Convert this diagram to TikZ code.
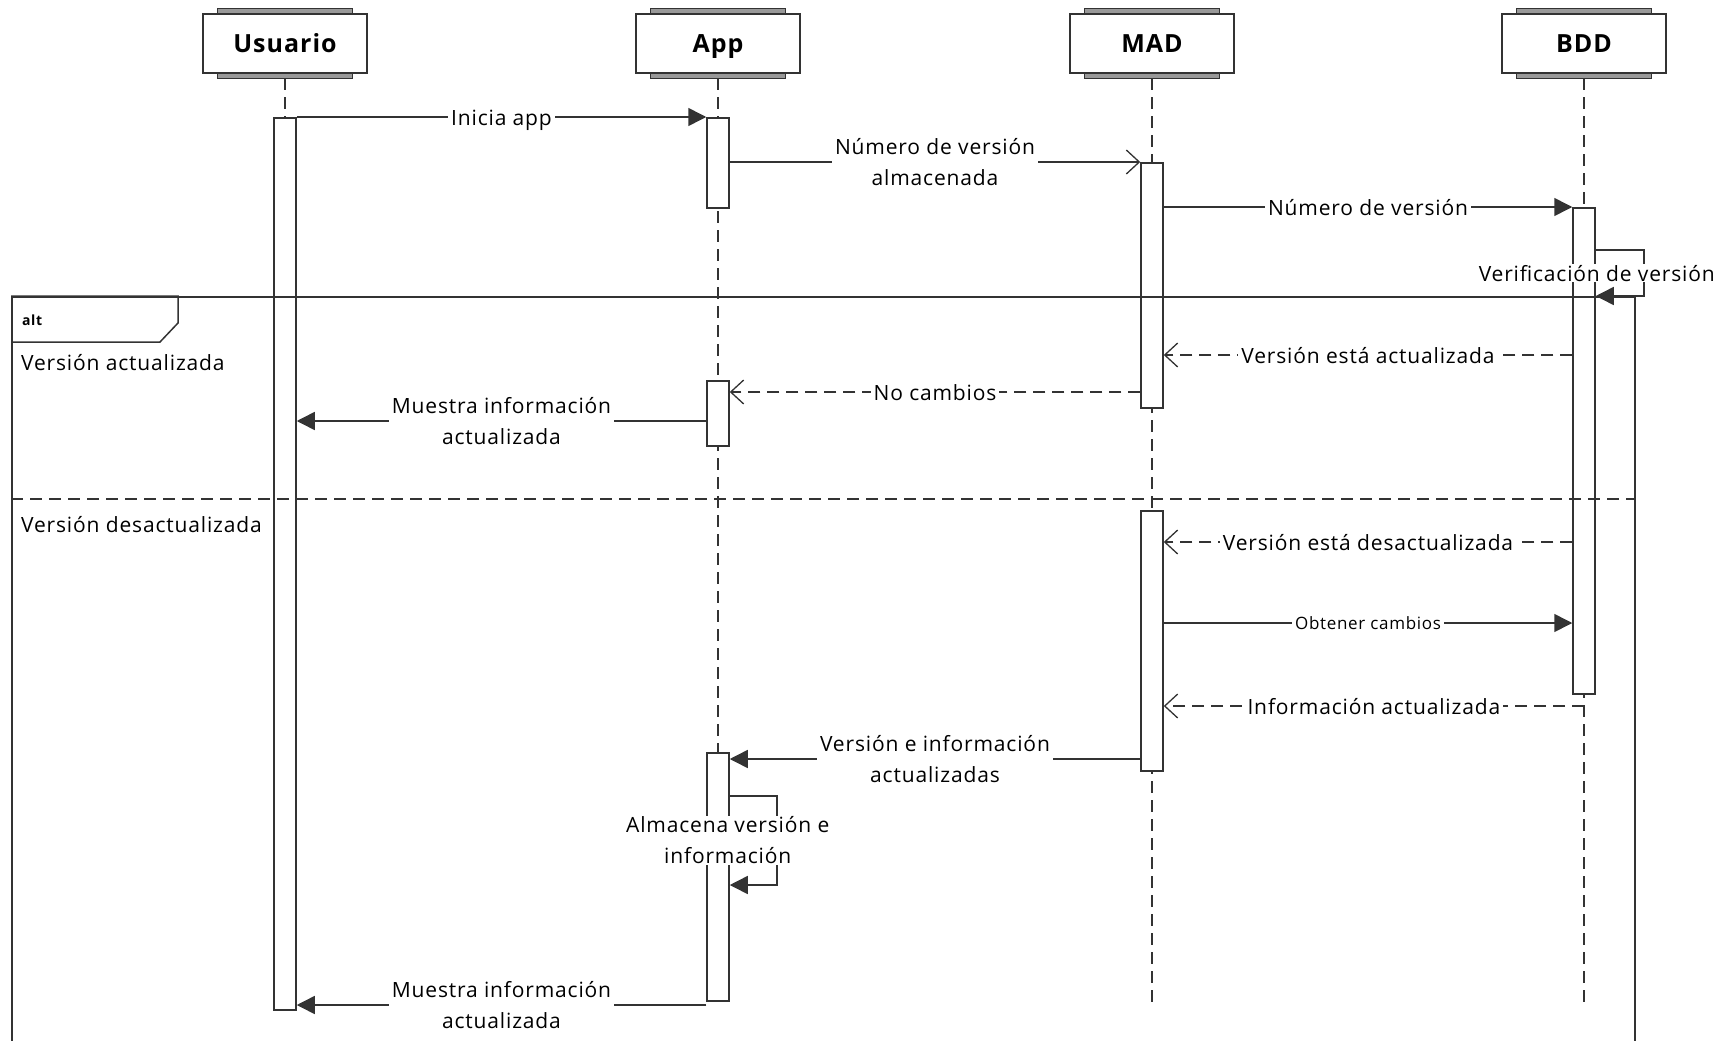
\documentclass[tikz,border=0pt]{standalone}
\usepackage{fontspec}
\setmainfont{Open Sans}[LetterSpace=4]
\usetikzlibrary{arrows.meta}

\definecolor{linegray}{HTML}{333333}
\definecolor{capgray}{HTML}{999999}

\tikzset{
  lane/.style={draw=linegray, line width=1.5pt, fill=white, minimum width=164pt,
    minimum height=59pt, inner sep=0pt, text height=18pt, text depth=0pt,
    font=\fontsize{25}{30}\selectfont\bfseries},
  capbar/.style={draw=linegray, line width=1pt, fill=capgray},
  lifeline/.style={draw=linegray, line width=1.5pt, dash pattern=on 12pt off 7pt},
  actbar/.style={draw=linegray, line width=1.5pt, fill=white, minimum width=22pt,
    inner sep=0pt, anchor=north},
  frame/.style={draw=linegray, line width=1.5pt, inner sep=0pt, anchor=north west},
  call/.style={draw=linegray, line width=1.5pt, -{Triangle[length=18pt,width=18pt]}},
  async/.style={draw=linegray, line width=1.5pt, -{Straight Barb[length=13pt,width=24pt,line width=1.3pt]}},
  reply/.style={async, dash pattern=on 12pt off 7pt},
  msg/.style={fill=white, inner xsep=3pt, inner ysep=1pt, align=center, text=black,
    font=\fontsize{21}{31}\selectfont},
  msgline/.style={msg, text height=16pt, text depth=0pt},
  smallmsg/.style={msg, text height=13pt, text depth=0pt, font=\fontsize{17}{20}\selectfont},
  guard/.style={anchor=west, inner sep=0pt, font=\fontsize{21}{25}\selectfont},
}

\begin{document}
\begin{tikzpicture}[x=1pt,y=-1pt]
\useasboundingbox (0,0) rectangle (1735,1041);
\clip (0,0) rectangle (1735,1041);

% lanes
\node[lane] (usr) at (285,43.5) {Usuario};
\node[lane] (app) at (718,43.5) {App};
\node[lane] (mad) at (1152,43.5) {MAD};
\node[lane] (bdd) at (1584,43.5) {BDD};
\foreach \h in {usr,app,mad,bdd}{
  \draw[capbar] ([xshift=15pt]\h.north west) rectangle ([xshift=-15pt,yshift=4.5pt]\h.north east);
  \draw[capbar] ([xshift=15pt]\h.south west) rectangle ([xshift=-15pt,yshift=-4.5pt]\h.south east);
}

% message levels
\coordinate (yend) at (0,1003);
\coordinate (yverif) at (0,250);
\coordinate (ynow) at (0,355);
\coordinate (ynochg) at (0,392);
\coordinate (yshow) at (0,421);
\coordinate (ysep) at (0,499);
\coordinate (yold) at (0,542);
\coordinate (yget) at (0,623);
\coordinate (yinfo) at (0,706);
\coordinate (ysend) at (0,759);
\coordinate (ysave) at (0,796);
\coordinate (ysaved) at (0,885);
\coordinate (yshowb) at (0,1005);

% lifelines
\foreach \h in {usr,app,mad,bdd}
  \draw[lifeline] ([yshift=-4.5pt]\h.south) -- (\h |- yend);

% activations
\node[actbar, minimum height=892pt] (usr1) at (usr |- 0,117) {};
\node[actbar, minimum height=90pt] (app1) at (app |- 0,117) {};
\node[actbar, minimum height=65pt] (app2) at (app |- 0,380) {};
\node[actbar, minimum height=248pt] (app3) at (app |- 0,752) {};
\node[actbar, minimum height=245pt] (mad1) at (mad |- 0,162) {};
\node[actbar, minimum height=260pt] (mad2) at (mad |- 0,510) {};
\node[actbar, minimum height=486pt] (bdd1) at (bdd |- 0,207) {};

% alt frame
\node[frame, minimum width=1623pt, minimum height=800pt] (alt) at (11,296) {};
\draw[draw=linegray, line width=1.5pt] (alt.north west) -- ++(167,0) -- ++(0,27)
  -- ++(-18,19) -- ++(-149,0);
\node[anchor=west, inner sep=0pt, font=\fontsize{14}{17}\selectfont\bfseries] (alttag) at (22,320) {alt};
\node[guard] (gnow) at (21,363) {Versión actualizada};
\draw[lifeline] (alt.west |- ysep) -- (alt.east |- ysep);
\node[guard] (gold) at (21,525) {Versión desactualizada};

% messages
\draw[call] (usr1.north east) -- node[msgline] {Inicia app} (app1.north west);
\draw[async] (app1.east |- mad1.north) -- node[msg] {Número de versión\\almacenada} (mad1.north west);
\draw[call] (mad1.east |- bdd1.north) -- node[msgline] {Número de versión} (bdd1.north west);
\draw[call] (bdd1.east |- yverif) -| node[msgline, pos=0.75, xshift=-47pt] {Verificación de versión}
  ([xshift=48pt]bdd1.east |- alt.north) -- (bdd1.east |- alt.north);
\draw[reply] (bdd1.west |- ynow) -- node[msgline] {Versión está actualizada} (mad1.east |- ynow);
\draw[reply] (mad1.west |- ynochg) -- node[msgline] {No cambios} (app2.east |- ynochg);
\draw[call] (app2.west |- yshow) -- node[msg] {Muestra información\\actualizada} (usr1.east |- yshow);
\draw[reply] (bdd1.west |- yold) -- node[msgline] {Versión está desactualizada} (mad2.east |- yold);
\draw[call] (mad2.east |- yget) -- node[smallmsg] {Obtener cambios} (bdd1.west |- yget);
\draw[reply] (bdd |- yinfo) -- node[msgline] {Información actualizada} (mad2.east |- yinfo);
\draw[call] (mad2.west |- ysend) -- node[msg] {Versión e información\\actualizadas} (app3.east |- ysend);
\draw[call] (app3.east |- ysave) -| node[msg, pos=0.75, xshift=-49pt] {Almacena versión e\\información}
  ([xshift=47pt]app3.east |- ysaved) -- (app3.east |- ysaved);
\draw[call] (app3.west |- yshowb) -- node[msg] {Muestra información\\actualizada} (usr1.east |- yshowb);
\end{tikzpicture}
\end{document}
